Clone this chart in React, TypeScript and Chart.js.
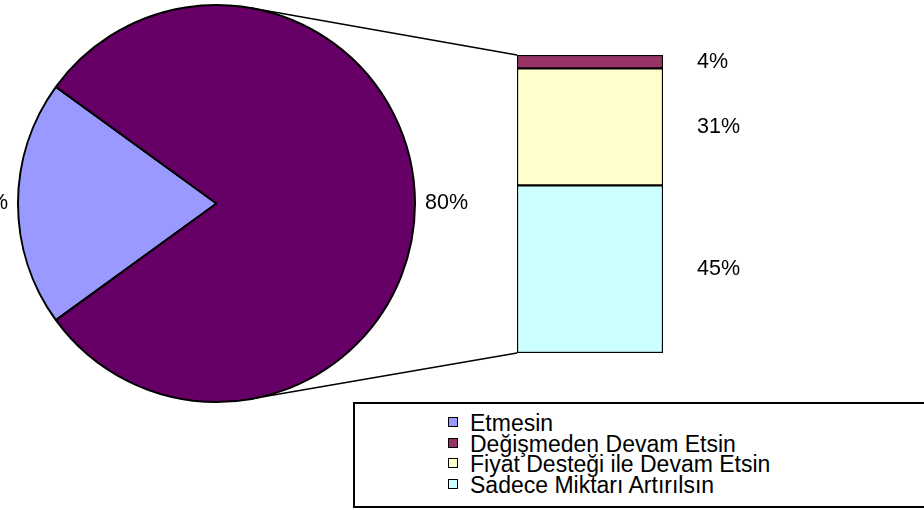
import React, { useEffect, useRef } from "react";
import { Chart, registerables } from "chart.js";

Chart.register(...registerables);

// ---- data ----
const pieLabels = ["Etmesin", "Diğer"];
const etmesinValue = 20;
const barCategories = [
  "Sadece Miktarı Artırılsın",
  "Fiyat Desteği ile Devam Etsin",
  "Değişmeden Devam Etsin",
];
const barValues = [45, 31.4, 3.6];
const barColors = ["#CCFFFF", "#FFFFCC", "#993366"];
const pieColors = ["#9999FF", "#660066"];
const legendLabels = [
  "Etmesin",
  "Değişmeden Devam Etsin",
  "Fiyat Desteği ile Devam Etsin",
  "Sadece Miktarı Artırılsın",
];
const legendColors = ["#9999FF", "#993366", "#FFFFCC", "#CCFFFF"];

const FONT = '"Liberation Sans", Arial, sans-serif';

export default function App() {
  const pieCanvas = useRef<HTMLCanvasElement | null>(null);
  const barCanvas = useRef<HTMLCanvasElement | null>(null);

  useEffect(() => {
    document.body.style.margin = "0";
    const barTotal = barValues.reduce((a, b) => a + b, 0);
    const grandTotal = etmesinValue + barTotal;
    const pieData = [etmesinValue, barTotal];

    const pieLabelPlugin = {
      id: "pieLabels",
      afterDatasetsDraw(chart: any) {
        const ctx = chart.ctx;
        const meta = chart.getDatasetMeta(0);
        ctx.save();
        ctx.font = `21.5px ${FONT}`;
        ctx.fillStyle = "#000";
        ctx.textBaseline = "middle";
        meta.data.forEach((arc: any, i: number) => {
          const mid = (arc.startAngle + arc.endAngle) / 2;
          const r = arc.outerRadius + 10;
          const c = Math.cos(mid);
          const px = arc.x + c * r;
          const py = arc.y + Math.sin(mid) * r;
          ctx.textAlign = c > 0.05 ? "left" : c < -0.05 ? "right" : "center";
          ctx.fillText(Math.round((pieData[i] / grandTotal) * 100) + "%", px, py);
        });
        ctx.restore();
      },
    };

    const pie = new Chart(pieCanvas.current!, {
      type: "pie",
      data: {
        labels: pieLabels,
        datasets: [
          {
            data: pieData,
            backgroundColor: pieColors,
            borderColor: "#000",
            borderWidth: 2,
            rotation: 234,
            radius: 198.5,
          } as any,
        ],
      },
      options: {
        responsive: false,
        animation: false,
        events: [],
        layout: { padding: { left: 16.5, top: 3.5, right: 507.5, bottom: 106.5 } },
        plugins: { legend: { display: false }, tooltip: { enabled: false } },
      } as any,
      plugins: [pieLabelPlugin],
    });

    const barDecor = {
      id: "barDecor",
      afterDatasetsDraw(chart: any) {
        const ctx = chart.ctx;
        ctx.save();
        ctx.font = `21.5px ${FONT}`;
        ctx.fillStyle = "#000";
        ctx.textBaseline = "middle";
        ctx.textAlign = "left";
        let topY = Infinity;
        let botY = -Infinity;
        let leftX = 0;
        chart.data.datasets.forEach((ds: any, i: number) => {
          const el: any = chart.getDatasetMeta(i).data[0];
          const y1 = Math.min(el.y, el.base);
          const y2 = Math.max(el.y, el.base);
          topY = Math.min(topY, y1);
          botY = Math.max(botY, y2);
          leftX = el.x - el.width / 2;
          ctx.fillText(
            Math.round((barValues[i] / grandTotal) * 100) + "%",
            el.x + el.width / 2 + 34,
            (y1 + y2) / 2
          );
        });
        // connector lines tangent to the pie
        const arc: any = pie.getDatasetMeta(0).data[1];
        const cx = arc.x;
        const cy = arc.y;
        const R = arc.outerRadius;
        ctx.strokeStyle = "#000";
        ctx.lineWidth = 1.5;
        const tangent = (px: number, py: number, sign: number) => {
          const dx = px - cx;
          const dy = py - cy;
          const d = Math.hypot(dx, dy);
          const a = Math.atan2(dy, dx) + sign * Math.acos(R / d);
          return [cx + R * Math.cos(a), cy + R * Math.sin(a)];
        };
        const t1 = tangent(leftX, topY, -1);
        const t2 = tangent(leftX, botY, 1);
        ctx.beginPath();
        ctx.moveTo(t1[0], t1[1]);
        ctx.lineTo(leftX, topY);
        ctx.moveTo(t2[0], t2[1]);
        ctx.lineTo(leftX, botY);
        ctx.stroke();
        ctx.restore();
      },
    };

    const bar = new Chart(barCanvas.current!, {
      type: "bar",
      data: {
        labels: [""],
        datasets: barCategories.map((c, i) => ({
          label: c,
          data: [barValues[i]],
          backgroundColor: barColors[i],
          borderColor: "#000",
          borderWidth: 1.5,
          borderSkipped: false,
          barPercentage: 1,
          categoryPercentage: 1,
        })),
      },
      options: {
        responsive: false,
        animation: false,
        events: [],
        layout: { padding: { left: 517, right: 261, top: 55, bottom: 157 } },
        scales: {
          x: { display: false, stacked: true },
          y: { display: false, stacked: true, min: 0, max: barTotal },
        },
        plugins: { legend: { display: false }, tooltip: { enabled: false } },
      } as any,
      plugins: [barDecor],
    });

    return () => {
      bar.destroy();
      pie.destroy();
    };
  }, []);

  return (
    <div
      style={{
        position: "relative",
        width: 924,
        height: 510,
        overflow: "hidden",
        background: "#fff",
      }}
    >
      <canvas
        ref={pieCanvas}
        width={924}
        height={510}
        style={{ position: "absolute", left: 0, top: 0, display: "block" }}
      />
      <canvas
        ref={barCanvas}
        width={924}
        height={510}
        style={{ position: "absolute", left: 0, top: 0, display: "block" }}
      />
      <div
        style={{
          position: "absolute",
          left: 353,
          top: 402,
          width: 620,
          height: 106,
          boxSizing: "border-box",
          border: "2px solid #000",
          background: "#fff",
          paddingTop: 9,
          paddingLeft: 93,
          fontFamily: FONT,
          fontSize: 23,
          lineHeight: "20.5px",
          color: "#000",
        }}
      >
        {legendLabels.map((l, i) => (
          <div key={l} style={{ display: "flex", alignItems: "center", whiteSpace: "nowrap" }}>
            <span
              style={{
                display: "inline-block",
                width: 10,
                height: 10,
                boxSizing: "border-box",
                border: "1px solid #000",
                background: legendColors[i],
                marginRight: 12,
                position: "relative",
                top: -1,
              }}
            />
            <span>{l}</span>
          </div>
        ))}
      </div>
    </div>
  );
}
